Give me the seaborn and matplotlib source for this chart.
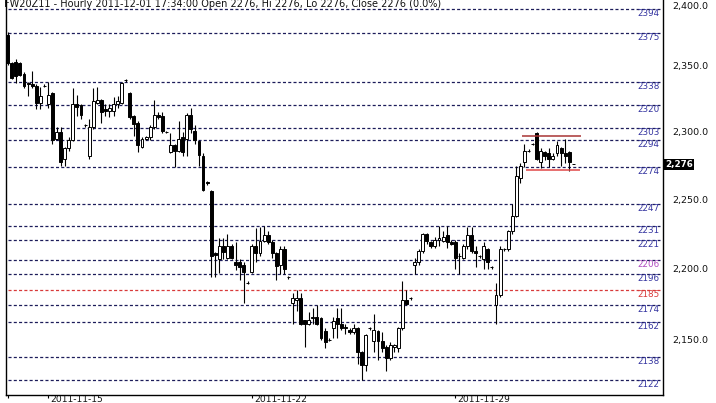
import matplotlib
matplotlib.use("Agg")
import matplotlib.pyplot as plt
import matplotlib.transforms as mtransforms
from matplotlib.ticker import FixedLocator, NullLocator, FuncFormatter
import numpy as np
import seaborn as sns

# Hourly FW20Z11 bars, 2011-11-14 .. 2011-12-01
opens = [2374, 2352, 2353, 2352, 2344, 2337, 2336, 2335, 2322, 2335,
         2321, 2329, 2295, 2300, 2280, 2288, 2294, 2321, 2320, 2305,
         2282, 2304, 2322, 2324, 2317, 2316, 2316, 2321, 2322, 2339,
         2329, 2312, 2307, 2289, 2295, 2296, 2304, 2313, 2312, 2300,
         2285, 2290, 2286, 2296, 2295, 2313, 2301, 2293, 2282, 2263,
         2256, 2211, 2207, 2216, 2208, 2216, 2205, 2205, 2203, 2190,
         2198, 2216, 2211, 2220, 2224, 2219, 2211, 2203, 2214, 2194,
         2176, 2178, 2179, 2164, 2161, 2165, 2166, 2165, 2156, 2150,
         2158, 2165, 2161, 2159, 2157, 2155, 2158, 2141, 2132, 2158,
         2149, 2156, 2149, 2145, 2137, 2145, 2144, 2158, 2178, 2179,
         2203, 2205, 2213, 2225, 2219, 2216, 2221, 2220, 2224, 2219,
         2219, 2209, 2208, 2216, 2224, 2213, 2209, 2207, 2214, 2201,
         2174, 2181, 2214, 2214, 2227, 2238, 2266, 2278, 2286, 2291,
         2299, 2278, 2285, 2284, 2280, 2284, 2288, 2284, 2285, 2276]
highs = [2376, 2353, 2355, 2353, 2345, 2338, 2346, 2336, 2334, 2336,
         2338, 2330, 2304, 2304, 2289, 2296, 2333, 2328, 2321, 2306,
         2310, 2333, 2334, 2325, 2321, 2321, 2326, 2327, 2338, 2340,
         2330, 2313, 2308, 2296, 2297, 2305, 2324, 2315, 2315, 2301,
         2299, 2291, 2308, 2300, 2314, 2318, 2305, 2294, 2284, 2264,
         2257, 2212, 2222, 2222, 2225, 2218, 2219, 2207, 2205, 2191,
         2218, 2229, 2230, 2231, 2227, 2221, 2212, 2216, 2216, 2195,
         2183, 2185, 2183, 2164, 2169, 2172, 2174, 2166, 2158, 2151,
         2166, 2172, 2172, 2161, 2158, 2161, 2159, 2142, 2154, 2159,
         2168, 2157, 2155, 2146, 2148, 2147, 2159, 2191, 2185, 2180,
         2208, 2214, 2226, 2226, 2220, 2223, 2231, 2227, 2231, 2221,
         2221, 2211, 2218, 2230, 2230, 2216, 2210, 2219, 2215, 2202,
         2190, 2216, 2215, 2228, 2247, 2275, 2277, 2291, 2287, 2292,
         2300, 2288, 2286, 2288, 2284, 2293, 2289, 2295, 2286, 2276]
lows = [2351, 2340, 2337, 2342, 2333, 2327, 2333, 2317, 2317, 2334,
        2318, 2291, 2294, 2275, 2275, 2286, 2293, 2312, 2310, 2304,
        2280, 2302, 2321, 2307, 2312, 2311, 2312, 2318, 2321, 2338,
        2310, 2297, 2285, 2288, 2294, 2294, 2302, 2310, 2299, 2299,
        2284, 2274, 2285, 2282, 2282, 2299, 2291, 2275, 2256, 2261,
        2194, 2194, 2197, 2207, 2207, 2207, 2199, 2192, 2176, 2189,
        2197, 2205, 2209, 2219, 2218, 2208, 2192, 2196, 2196, 2193,
        2161, 2170, 2160, 2145, 2160, 2161, 2160, 2150, 2144, 2149,
        2151, 2151, 2157, 2154, 2154, 2154, 2133, 2122, 2128, 2157,
        2141, 2136, 2141, 2128, 2136, 2141, 2141, 2157, 2174, 2178,
        2196, 2203, 2211, 2218, 2215, 2215, 2216, 2219, 2215, 2217,
        2200, 2196, 2207, 2214, 2211, 2201, 2208, 2200, 2200, 2200,
        2161, 2180, 2213, 2213, 2225, 2237, 2262, 2274, 2285, 2290,
        2279, 2273, 2279, 2274, 2279, 2282, 2275, 2277, 2271, 2276]
closes = [2352, 2341, 2342, 2343, 2335, 2336, 2335, 2322, 2327, 2335,
          2328, 2294, 2300, 2278, 2288, 2294, 2321, 2319, 2313, 2305,
          2304, 2323, 2324, 2315, 2316, 2318, 2321, 2323, 2337, 2339,
          2311, 2306, 2290, 2295, 2296, 2304, 2313, 2311, 2301, 2300,
          2290, 2286, 2295, 2285, 2313, 2302, 2294, 2283, 2257, 2262,
          2209, 2210, 2216, 2212, 2216, 2208, 2203, 2201, 2198, 2190,
          2216, 2211, 2220, 2224, 2219, 2211, 2202, 2214, 2200, 2194,
          2179, 2179, 2161, 2161, 2164, 2166, 2161, 2151, 2148, 2150,
          2163, 2161, 2158, 2158, 2155, 2158, 2141, 2132, 2153, 2158,
          2157, 2149, 2144, 2137, 2146, 2146, 2158, 2178, 2175, 2179,
          2205, 2213, 2225, 2220, 2216, 2221, 2222, 2223, 2219, 2218,
          2208, 2209, 2216, 2224, 2213, 2211, 2209, 2216, 2205, 2201,
          2181, 2214, 2214, 2227, 2238, 2267, 2275, 2286, 2286, 2291,
          2280, 2286, 2282, 2280, 2282, 2290, 2284, 2282, 2278, 2276]

# first bar of each trading day shown on the time axis
day_start_bars = [0, 10, 60, 110]
day_labels = ["", "2011-11-15", "2011-11-22", "2011-11-29"]

# horizontal levels drawn on the chart
levels = [2394, 2375, 2338, 2320, 2303, 2294, 2274, 2247, 2231, 2221,
          2206, 2196, 2185, 2174, 2162, 2138, 2122]
level_special = {2206: "#b04cc0", 2185: "#d83a3a"}

# red consolidation box at the end
box_bars = [126.4, 141.0]
box_top = 2297
box_bottom = 2272

price_ticks = [2150, 2200, 2250, 2300, 2350, 2400]
last_price = 2276
title = "FW20Z11 - Hourly 2011-12-01 17:34:00 Open 2276, Hi 2276, Lo 2276, Close 2276 (0.0%)"

sns.set_theme(style="white")
plt.rcParams["font.family"] = ["DejaVu Sans"]
plt.rcParams["lines.scale_dashes"] = False

fig = plt.figure(figsize=(7.16, 4.03), dpi=100)
ax = fig.add_axes([5.5 / 716, 8 / 403, 657.5 / 716, 395 / 403])

o = np.array(opens, dtype=float)
h = np.array(highs, dtype=float)
l = np.array(lows, dtype=float)
c = np.array(closes, dtype=float)
x = np.arange(len(o))

# level lines + labels
lab_tr = mtransforms.blended_transform_factory(ax.transAxes, ax.transData)
for lv in levels:
    lc = "#d83a3a" if lv == 2185 else "#1c1c5a"
    ax.axhline(lv, xmin=0.004, xmax=0.996, color=lc, lw=0.9,
               dashes=(2.2, 1.6), zorder=1)
    tc = level_special.get(lv, "#3434a0")
    ax.text(0.995, lv, str(lv), transform=lab_tr, ha="right", va="top",
            fontsize=6.3, color=tc, zorder=2)

# candles: wicks first, then bodies
ax.vlines(x, l, h, color="black", lw=0.8, zorder=3)
up = c >= o
bottoms = np.minimum(o, c)
heights = np.abs(c - o)
ax.bar(x[up], heights[up], bottom=bottoms[up], width=0.72,
       facecolor="white", edgecolor="black", lw=0.7, zorder=4)
ax.bar(x[~up], heights[~up], bottom=bottoms[~up], width=0.72,
       facecolor="black", edgecolor="black", lw=0.7, zorder=4)

# consolidation lines
ax.hlines(box_top, box_bars[0], box_bars[1], color="#a83434", lw=1.1, zorder=5)
ax.hlines(box_bottom, box_bars[0] + 1, box_bars[1] - 0.4, color="#e04848", lw=1.1, zorder=5)

ax.set_yscale("log")
ax.set_ylim(2111.6, 2400.8)
ax.set_xlim(-0.55, 161.05)

ax.yaxis.tick_right()
ax.yaxis.set_major_locator(FixedLocator(price_ticks))
ax.yaxis.set_minor_locator(NullLocator())
ax.yaxis.set_major_formatter(FuncFormatter(lambda v, p: f"{v:,.1f}"))
ax.tick_params(axis="y", length=0, pad=7, labelsize=6.8, labelcolor="#111111")

# keep the topmost price label inside the canvas
top_lbl = ax.get_yticklabels()[-1]
top_lbl.set_transform(top_lbl.get_transform() + mtransforms.ScaledTranslation(0, -4 / 100, fig.dpi_scale_trans))

ax.set_xticks(day_start_bars)
ax.set_xticklabels(day_labels, ha="left", fontsize=6.6, color="#111111")
ax.tick_params(axis="x", direction="out", length=2.2, width=0.8, pad=-2.5,
               color="black", bottom=True)
for lbl in ax.get_xticklabels():
    lbl.set_transform(lbl.get_transform() + mtransforms.ScaledTranslation(2 / 100, 0, fig.dpi_scale_trans))

for side in ["left", "bottom", "right"]:
    ax.spines[side].set_visible(True)
    ax.spines[side].set_color("black")
    ax.spines[side].set_linewidth(1.0)
ax.spines["top"].set_visible(False)
ax.grid(False)

# last price marker on the price axis
ax.text(1.003, last_price, f"{last_price:,}", transform=lab_tr, ha="left", va="center",
        fontsize=6.3, fontweight="bold", color="white", clip_on=False, zorder=6,
        bbox=dict(facecolor="black", edgecolor="none", pad=0.6))

fig.text(4 / 716, 1 - 4 / 403, title, ha="left", va="center", fontsize=7, color="#111111")

fig.savefig("out.png", dpi=100)
